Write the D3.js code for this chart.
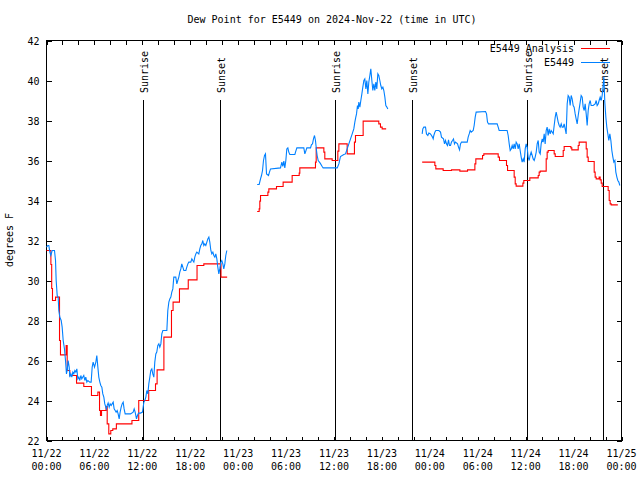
<!DOCTYPE html>
<html>
<head>
<meta charset="utf-8">
<script src="https://cdn.jsdelivr.net/npm/d3@7"></script>
<style>
  html, body { margin: 0; padding: 0; background: #fff; }
  svg { display: block; }
  text { font-family: "DejaVu Sans Mono", "Liberation Mono", monospace; font-size: 10px; fill: #000; }
</style>
</head>
<body>
<svg id="chart" width="640" height="480"></svg>
<script>
// ---------------- DATA ----------------
// times are hours after 2024-11-22 00:00 UTC, values are dew point in degrees F
const chartTitle = "Dew Point for E5449 on 2024-Nov-22 (time in UTC)";
const yAxisLabel = "degrees F";
const seriesNames = ["E5449 Analysis", "E5449"];
const seriesColors = ["#ff0000", "#0080ff"];
const yTickValues = [22, 24, 26, 28, 30, 32, 34, 36, 38, 40, 42];

// Analysis (red), piecewise-constant values, three data segments
const analysisSeg1 = [[0.00,31.50],[0.55,30.80],[0.65,29.60],[0.75,29.00],[1.13,29.17],[1.63,27.00],[1.75,26.28],[2.46,26.75],[2.59,25.50],[2.92,25.25],[3.76,24.87],[4.67,24.70],[5.63,24.25],[6.43,24.42],[6.64,23.50],[6.76,23.25],[6.89,23.50],[7.45,23.70],[7.60,22.83],[7.80,22.33],[8.05,22.50],[8.30,22.58],[8.75,22.83],[10.70,23.00],[11.55,24.00],[12.80,24.50],[13.65,24.83],[13.85,25.53],[14.70,27.17],[15.65,28.50],[15.85,28.92],[16.65,29.58],[17.75,30.03],[18.85,30.75],[19.70,30.83],[21.85,30.17],[22.62,30.17]];
const analysisSeg2 = [[26.38,33.45],[26.63,33.58],[26.71,33.97],[26.80,34.25],[27.72,34.42],[27.84,34.58],[28.80,34.70],[29.63,34.92],[30.76,35.25],[31.64,35.37],[31.72,35.63],[33.68,35.92],[33.77,36.63],[34.73,36.42],[34.85,36.08],[35.77,36.00],[36.48,36.47],[36.61,36.83],[37.65,36.33],[38.56,36.92],[38.69,37.25],[39.65,37.97],[41.61,37.83],[41.82,37.67],[42.03,37.58],[42.53,37.58]];
const analysisSeg3 = [[47.04,35.92],[48.63,35.75],[48.75,35.58],[49.67,35.50],[50.71,35.53],[51.76,35.47],[52.72,35.53],[53.64,35.83],[53.76,36.08],[54.60,36.25],[54.76,36.33],[56.56,36.17],[56.72,36.00],[57.60,35.75],[57.73,35.50],[58.56,35.17],[58.69,34.83],[58.81,34.72],[59.65,34.87],[59.77,35.00],[60.52,35.13],[61.57,35.25],[61.69,35.42],[61.82,35.47],[62.57,36.08],[62.69,36.42],[62.82,36.50],[63.57,36.33],[63.70,36.20],[64.70,36.50],[64.82,36.70],[65.66,36.63],[65.78,36.53],[66.58,36.75],[66.70,36.92],[67.58,36.58],[67.70,36.17],[67.83,35.95],[68.58,35.42],[68.70,35.17],[68.83,35.08],[69.20,35.17],[69.33,35.03],[69.46,34.87],[69.58,34.70],[70.33,34.50],[70.46,34.00],[70.58,33.83],[70.71,33.78],[71.54,33.78]];

// Observations (blue), three data segments
const obsSeg1 = [[0.00,31.67],[0.17,31.75],[0.29,31.75],[0.42,31.42],[0.54,31.25],[0.71,31.50],[1.00,31.50],[1.13,31.00],[1.21,30.00],[1.34,29.25],[1.46,29.17],[1.54,28.50],[1.67,28.17],[1.84,28.00],[1.96,27.67],[2.09,27.00],[2.25,26.58],[2.38,26.00],[2.50,25.33],[2.59,25.50],[2.71,26.00],[2.84,25.67],[2.92,25.17],[3.05,25.33],[3.17,25.17],[3.30,25.42],[3.42,25.33],[3.55,25.50],[3.67,25.42],[3.80,25.58],[3.92,25.08],[4.05,25.17],[4.17,25.00],[4.30,25.25],[4.42,25.08],[4.55,25.17],[4.67,25.25],[4.80,25.00],[4.92,25.17],[5.05,24.92],[5.18,25.00],[5.43,24.92],[5.59,24.92],[5.72,25.67],[5.84,25.92],[6.01,25.67],[6.18,25.92],[6.30,26.25],[6.43,25.67],[6.55,25.17],[6.68,24.92],[6.80,24.75],[6.93,24.67],[7.05,24.33],[7.18,24.17],[7.30,23.83],[7.43,23.67],[7.51,23.58],[7.60,23.75],[7.72,23.87],[7.85,23.67],[7.97,23.83],[8.10,23.75],[8.22,23.83],[8.35,23.92],[8.47,23.58],[8.60,23.50],[8.72,23.42],[8.85,23.50],[8.97,23.33],[9.10,23.08],[9.22,23.42],[9.35,23.67],[9.47,23.83],[9.60,23.92],[9.72,23.58],[9.85,23.33],[10.52,23.33],[10.85,23.42],[10.98,23.58],[11.10,23.42],[11.27,23.08],[11.39,23.25],[11.52,23.37],[11.77,23.37],[12.02,23.42],[12.19,23.92],[12.31,24.00],[12.44,24.17],[12.56,24.50],[12.69,24.33],[12.81,24.83],[12.94,25.17],[13.06,25.50],[13.19,25.58],[13.31,25.33],[13.44,25.17],[13.56,25.92],[13.69,26.33],[13.81,26.42],[13.94,26.75],[14.07,26.83],[14.19,26.67],[14.32,26.83],[14.44,27.33],[14.57,27.50],[15.07,27.50],[15.19,28.50],[15.32,28.92],[15.44,29.08],[15.57,29.17],[15.69,29.42],[15.82,29.58],[15.94,30.17],[16.19,30.17],[16.32,29.83],[16.44,30.00],[16.57,30.17],[16.69,30.42],[16.82,30.58],[16.94,30.83],[17.07,30.67],[17.20,30.50],[17.45,30.50],[17.57,30.67],[17.70,30.83],[17.82,30.92],[18.07,30.92],[18.20,31.08],[18.32,31.00],[18.45,30.92],[18.57,31.17],[18.70,31.33],[18.82,31.42],[19.07,31.33],[19.20,31.58],[19.32,31.75],[19.45,31.83],[19.57,32.00],[19.70,31.75],[19.82,31.83],[19.95,31.75],[20.08,31.92],[20.20,32.08],[20.33,32.17],[20.45,31.92],[20.58,31.50],[20.70,31.33],[20.83,31.42],[20.95,31.25],[21.08,31.17],[21.20,31.33],[21.33,31.08],[21.45,30.67],[21.58,30.33],[21.70,30.58],[21.83,30.92],[21.95,31.00],[22.08,30.83],[22.20,30.58],[22.33,30.83],[22.45,31.25],[22.58,31.50]];
const obsSeg2 = [[26.38,34.80],[26.63,34.80],[26.80,35.08],[26.92,35.25],[27.05,35.50],[27.17,36.00],[27.30,36.25],[27.42,36.33],[27.55,35.33],[27.80,35.25],[27.92,35.42],[28.05,35.58],[29.30,35.63],[29.47,35.92],[29.59,35.70],[29.72,35.97],[29.84,35.63],[29.97,36.00],[30.09,36.58],[30.22,36.63],[30.34,36.42],[30.47,36.30],[31.10,36.30],[31.22,36.47],[31.35,36.63],[32.22,36.63],[32.35,36.33],[32.47,36.47],[32.60,36.63],[33.06,36.63],[33.18,36.80],[33.31,36.83],[33.43,37.08],[33.56,37.25],[33.68,37.00],[33.81,36.50],[33.89,36.25],[34.02,36.00],[34.27,35.87],[34.52,35.70],[34.64,35.63],[36.40,35.63],[36.61,35.83],[36.81,36.20],[37.23,36.30],[37.44,36.33],[37.65,36.58],[37.86,36.83],[38.07,37.08],[38.28,37.33],[38.48,37.58],[38.61,37.92],[38.73,38.17],[38.82,38.33],[38.94,38.75],[39.03,38.58],[39.11,38.92],[39.24,38.67],[39.36,39.00],[39.49,39.33],[39.61,39.67],[39.74,40.00],[39.86,40.08],[39.99,39.58],[40.11,40.00],[40.24,39.33],[40.36,39.92],[40.49,40.25],[40.61,40.58],[40.74,40.00],[40.86,39.50],[40.99,39.83],[41.11,39.50],[41.24,39.92],[41.36,39.58],[41.49,40.33],[41.61,40.25],[41.74,40.00],[41.86,39.75],[41.99,39.58],[42.12,39.67],[42.24,39.50],[42.37,39.17],[42.49,38.75],[42.62,38.67],[42.74,38.58]];
const obsSeg3 = [[47.04,37.33],[47.12,37.58],[47.25,37.67],[47.46,37.67],[47.58,37.33],[47.75,37.25],[47.88,37.37],[48.08,37.33],[48.21,37.25],[48.33,37.17],[48.42,37.08],[48.50,37.25],[48.63,37.42],[48.75,37.50],[49.13,37.50],[49.34,37.42],[49.46,37.17],[49.71,37.08],[49.84,36.83],[49.96,37.00],[50.09,36.83],[50.21,36.75],[50.34,37.03],[50.46,36.75],[50.59,36.75],[50.71,36.92],[50.84,37.00],[50.96,37.08],[51.09,36.83],[51.21,36.92],[51.47,36.83],[51.59,36.67],[51.72,36.53],[51.84,36.83],[51.97,36.92],[52.68,36.92],[52.80,37.17],[52.93,37.33],[53.05,37.50],[53.18,37.42],[53.43,37.50],[53.55,37.75],[53.68,38.17],[53.80,38.42],[54.97,38.45],[55.10,38.33],[55.22,37.92],[55.35,37.83],[56.43,37.83],[56.56,37.67],[56.68,37.50],[57.68,37.50],[57.81,37.25],[57.94,36.83],[58.06,36.50],[58.19,36.58],[58.31,36.75],[58.44,36.58],[58.56,36.83],[58.69,36.58],[58.81,36.92],[58.94,36.83],[59.06,36.58],[59.19,36.83],[59.31,36.50],[59.44,36.17],[59.56,35.92],[59.69,36.08],[59.81,35.92],[59.94,36.58],[60.06,36.83],[60.19,36.67],[60.31,36.17],[60.44,36.00],[60.56,36.25],[60.69,36.42],[60.82,36.25],[60.94,36.08],[61.07,36.00],[61.19,36.17],[61.32,36.42],[61.44,36.83],[61.57,37.00],[61.69,36.42],[61.82,36.33],[61.94,36.83],[62.07,37.08],[62.19,36.92],[62.32,37.33],[62.44,36.83],[62.57,37.50],[62.69,37.67],[62.82,37.25],[62.94,37.58],[63.07,37.33],[63.19,37.50],[63.32,37.42],[63.45,37.33],[63.57,37.75],[63.70,38.17],[63.82,38.42],[63.95,38.17],[64.07,37.92],[64.20,37.75],[64.32,37.67],[64.45,37.83],[64.57,37.67],[64.70,37.67],[64.82,37.83],[64.95,37.58],[65.07,37.33],[65.20,38.83],[65.32,39.25],[65.45,39.17],[65.57,38.75],[65.70,39.25],[65.82,39.08],[65.95,38.75],[66.07,38.67],[66.20,38.33],[66.32,38.08],[66.45,37.83],[66.58,38.25],[66.70,38.58],[66.83,38.92],[66.95,39.25],[67.08,39.17],[67.20,38.67],[67.33,38.50],[67.45,38.83],[67.58,38.33],[67.70,37.75],[67.83,38.50],[67.95,38.83],[68.08,39.00],[68.20,38.75],[68.45,38.75],[68.70,38.83],[68.83,39.00],[68.95,38.75],[69.08,38.83],[69.20,39.00],[69.33,39.17],[69.46,39.00],[69.58,39.25],[69.71,39.80],[69.79,40.20],[69.91,38.92],[70.04,38.17],[70.16,37.67],[70.29,37.33],[70.41,37.00],[70.54,37.33],[70.67,37.00],[70.79,36.50],[70.92,36.17],[71.04,35.92],[71.17,36.00],[71.29,35.42],[71.42,35.17],[71.54,35.00],[71.67,34.92],[71.79,34.75]];

// Sunrise / sunset markers (hours after 2024-11-22 00:00 UTC)
const sunEventNames = ["Sunrise", "Sunset", "Sunrise", "Sunset", "Sunrise", "Sunset"];
const sunEventHours = [12.15, 21.79, 36.19, 45.83, 60.23, 69.75];

// ---------------- CHART ----------------
const START = Date.UTC(2024, 10, 22);
const toDate = h => new Date(START + h * 3600e3);
const END = toDate(72);

const svg = d3.select("#chart");
const L = 46, R = 621, T = 40, B = 440;

const x = d3.scaleUtc().domain([toDate(0), END]).range([L + 0.5, R + 0.5]);
const y = d3.scaleLinear().domain([22, 42]).range([B + 0.5, T + 0.5]);

// title
svg.append("text").attr("x", 332).attr("y", 23).attr("text-anchor", "middle").text(chartTitle);

// y label
svg.append("text").attr("transform", "translate(13,240) rotate(-90)")
  .attr("text-anchor", "middle").text(yAxisLabel);

// sunrise/sunset lines
const sunG = svg.append("g");
sunEventHours.forEach((h, i) => {
  const xp = Math.round(x(toDate(h))) - 0.5;
  sunG.append("line").attr("x1", xp).attr("x2", xp).attr("y1", 100).attr("y2", B)
    .attr("stroke", "#000").attr("stroke-width", 1).attr("shape-rendering", "crispEdges");
  sunG.append("text").attr("transform", `translate(${xp + 4},93) rotate(-90)`)
    .attr("text-anchor", "start").text(sunEventNames[i]);
});

// axes
const xTickDates = d3.utcHour.range(toDate(0), toDate(72.01), 2);
const xLabelDates = d3.utcHour.range(toDate(0), toDate(72.01), 6);

const axBottom = svg.append("g").attr("transform", `translate(0,${B + 0.5})`)
  .call(d3.axisBottom(x).tickValues(xTickDates).tickSize(-4).tickFormat(""));
const axTop = svg.append("g").attr("transform", `translate(0,${T + 0.5})`)
  .call(d3.axisTop(x).tickValues(xTickDates).tickSize(-4).tickFormat(""));
const axLeft = svg.append("g").attr("transform", `translate(${L + 0.5},0)`)
  .call(d3.axisLeft(y).tickValues(yTickValues).tickSize(-5).tickPadding(7).tickFormat(d3.format("d")));
const axRight = svg.append("g").attr("transform", `translate(${R + 0.5},0)`)
  .call(d3.axisRight(y).tickValues(yTickValues).tickSize(-5).tickFormat(""));

[axBottom, axTop, axLeft, axRight].forEach(g => {
  g.select(".domain").remove();
  g.selectAll("line").attr("stroke", "#000").attr("shape-rendering", "crispEdges");
  g.attr("font-family", null).attr("font-size", null);
});
axLeft.selectAll("text").attr("dy", "0.35em");

const fmtDay = d3.utcFormat("%m/%d");
const fmtHour = d3.utcFormat("%H:%M");
const xl = svg.append("g");
xLabelDates.forEach(d => {
  const t = xl.append("text").attr("text-anchor", "middle");
  t.append("tspan").attr("x", x(d)).attr("y", 457).text(fmtDay(d));
  t.append("tspan").attr("x", x(d)).attr("y", 470).text(fmtHour(d));
});

// border
svg.append("rect").attr("x", L + 0.5).attr("y", T + 0.5).attr("width", R - L).attr("height", B - T)
  .attr("fill", "none").attr("stroke", "#000").attr("shape-rendering", "crispEdges");

// data lines
const stepLine = d3.line().x(d => x(toDate(d[0]))).y(d => y(d[1])).curve(d3.curveStepAfter);
const plainLine = d3.line().x(d => x(toDate(d[0]))).y(d => y(d[1]));

const plot = svg.append("g");
[analysisSeg1, analysisSeg2, analysisSeg3].forEach(seg => {
  plot.append("path").attr("d", stepLine(seg)).attr("fill", "none")
    .attr("stroke", seriesColors[0]).attr("stroke-width", 1.1);
});
[obsSeg1, obsSeg2, obsSeg3].forEach(seg => {
  plot.append("path").attr("d", plainLine(seg)).attr("fill", "none")
    .attr("stroke", seriesColors[1]).attr("stroke-width", 1.1);
});

// legend
const legY = [48, 62];
seriesNames.forEach((name, i) => {
  svg.append("text").attr("x", 574).attr("y", legY[i]).attr("dy", "0.35em")
    .attr("text-anchor", "end").text(name);
  svg.append("line").attr("x1", 581).attr("x2", 610).attr("y1", legY[i] + 0.5).attr("y2", legY[i] + 0.5)
    .attr("stroke", seriesColors[i]).attr("stroke-width", 1);
});
</script>
</body>
</html>
